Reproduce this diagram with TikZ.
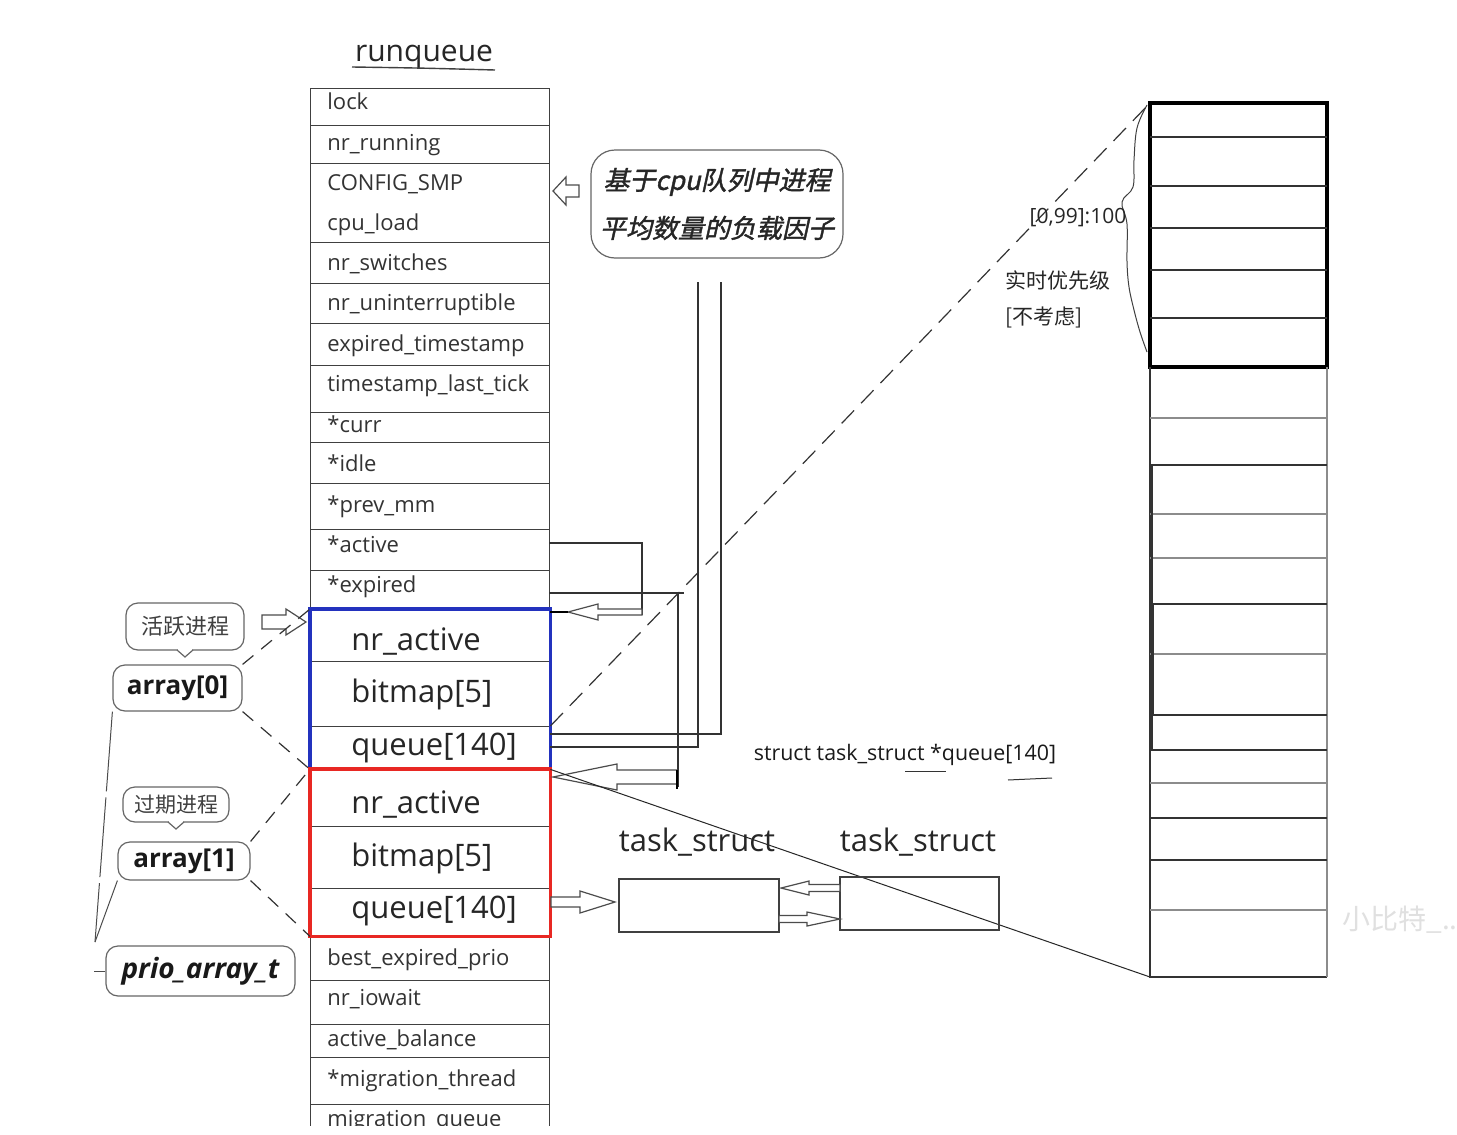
\documentclass[tikz,border=0pt]{standalone}
\usepackage{fontspec}
\setmainfont{Open Sans}
\newfontfamily\cjk{Noto Sans CJK SC}
\newfontfamily\cjkbi[FakeSlant=0.22,FakeBold=1.5]{Noto Sans CJK SC}
\definecolor{qblue}{RGB}{35,50,190}
\definecolor{qred}{RGB}{232,40,35}
\newcommand\hollowL[6]{%
 \draw[harrow] ({#1},{#3-#4}) -- ({#2+#6},{#3-#4}) -- ({#2+#6},{#3-#5}) -- ({#2},{#3}) -- ({#2+#6},{#3+#5}) -- ({#2+#6},{#3+#4}) -- ({#1},{#3+#4}) -- cycle;}
\newcommand\hollowR[6]{%
 \draw[harrow] ({#1},{#3-#4}) -- ({#2-#6},{#3-#4}) -- ({#2-#6},{#3-#5}) -- ({#2},{#3}) -- ({#2-#6},{#3+#5}) -- ({#2-#6},{#3+#4}) -- ({#1},{#3+#4}) -- cycle;}
\tikzset{
 tline/.style={draw=black!75, line width=0.7pt},
 rowbox/.style={tline, minimum width=119.5pt, inner sep=0pt, anchor=north west},
 rowtext/.style={anchor=west, inner sep=0pt, yshift=-1.5pt, font=\fontsize{11}{13}\selectfont, text=black!80, text height=0.72em, text depth=0.22em},
 bigtext/.style={anchor=west, inner sep=0pt, yshift=-2.8pt, font=\fontsize{15.5}{18}\selectfont, text=black!85, text height=0.72em, text depth=0.22em},
 harrow/.style={draw=black!70, fill=white, line width=0.6pt},
 bubble/.style={draw=black!60, line width=0.6pt, rounded corners=6pt, inner sep=0pt, fill=white},
 dashone/.style={draw=black!80, line width=0.6pt, dash pattern=on 9pt off 5pt},
 conn/.style={draw=black!80, line width=0.7pt},
 colline/.style={draw=black!80, line width=0.6pt},
 colgray/.style={draw=black!45, line width=0.6pt},
}
\begin{document}
\begin{tikzpicture}[x=0.5pt,y=-0.5pt]
\fill[white] (0,0) rectangle (1457,1135);
\useasboundingbox (0,0) rectangle (1457,1135);

% title
\node[font=\fontsize{15}{18}\selectfont, text=black!85] (title) at (424,57) {runqueue};
\draw[black!75, line width=0.7pt] (352,67) .. controls (420,68) .. (495,70);

% runqueue rows
\node[rowbox, minimum height=18.5pt] (lock) at (310,88) {};
\node[rowbox, minimum height=19pt] (nrrun) at (310,125) {};
\node[rowbox, minimum height=39.5pt] (cfg) at (310,163) {};
\node[rowbox, minimum height=20.5pt] (nrsw) at (310,242) {};
\node[rowbox, minimum height=20pt] (nrun) at (310,283) {};
\node[rowbox, minimum height=21pt] (expts) at (310,323) {};
\node[rowbox, minimum height=23.5pt] (tslt) at (310,365) {};
\node[rowbox, minimum height=15pt] (curr) at (310,412) {};
\node[rowbox, minimum height=20.5pt] (idle) at (310,442) {};
\node[rowbox, minimum height=23pt] (prevmm) at (310,483) {};
\node[rowbox, minimum height=20.5pt] (active) at (310,529) {};
\node[rowbox, minimum height=19.5pt] (expired) at (310,570) {};
\node[rowbox, minimum height=26pt] (banr) at (310,609) {};
\node[rowbox, minimum height=32.5pt] (babm) at (310,661) {};
\node[rowbox, minimum height=21pt] (baq) at (310,726) {};
\node[rowbox, minimum height=28.5pt] (ranr) at (310,769) {};
\node[rowbox, minimum height=31pt] (rabm) at (310,826) {};
\node[rowbox, minimum height=23.5pt] (raq) at (310,888) {};
\node[rowbox, minimum height=22.5pt] (bep) at (310,935) {};
\node[rowbox, minimum height=22pt] (iow) at (310,980) {};
\node[rowbox, minimum height=16.5pt] (bal) at (310,1024) {};
\node[rowbox, minimum height=23.5pt] (mth) at (310,1057) {};
\begin{scope}
\clip (0,0) rectangle (1457,1125);
\node[rowbox, minimum height=23pt] (mq) at (310,1104) {};
\node[rowtext] (mqT) at (327,1118) {migration\_queue};
\end{scope}

\node[rowtext] (lockT) at (327,101) {lock};
\node[rowtext] (nrrunT) at (327,142) {nr\_running};
\node[rowtext] (cfgT) at (327,182) {CONFIG\_SMP};
\node[rowtext] (cpuT) at (327,222) {cpu\_load};
\node[rowtext] (nrswT) at (327,262) {nr\_switches};
\node[rowtext] (nrunT) at (327,302) {nr\_uninterruptible};
\node[rowtext] (exptsT) at (327,343) {expired\_timestamp};
\node[rowtext] (tsltT) at (327,383) {timestamp\_last\_tick};
\node[rowtext] (currT) at (327,424) {*curr};
\node[rowtext] (idleT) at (327,463) {*idle};
\node[rowtext] (prevmmT) at (327,504) {*prev\_mm};
\node[rowtext] (activeT) at (327,544) {*active};
\node[rowtext] (expiredT) at (327,584) {*expired};
\node[bigtext] (banrT) at (351,640) {nr\_active};
\node[bigtext] (babmT) at (351,692) {bitmap[5]};
\node[bigtext] (baqT) at (351,745) {queue[140]};
\node[bigtext] (ranrT) at (351,803) {nr\_active};
\node[bigtext] (rabmT) at (351,856) {bitmap[5]};
\node[bigtext] (raqT) at (351,908) {queue[140]};
\node[rowtext] (bepT) at (327,957) {best\_expired\_prio};
\node[rowtext] (iowT) at (327,997) {nr\_iowait};
\node[rowtext] (balT) at (327,1038) {active\_balance};
\node[rowtext] (mthT) at (327,1078) {*migration\_thread};

\draw[qblue, line width=1.6pt] (banr.north west) rectangle (baq.south east);
\draw[qred, line width=1.6pt] (ranr.north west) rectangle (raq.south east);

% callout on cpu_load
\node[bubble, rounded corners=12pt, minimum width=126pt, minimum height=54pt, align=center,
      font=\cjkbi\fontsize{13}{24}\selectfont, text=black!85] (cb) at (717,204)
      {基于cpu队列中进程\\平均数量的负载因子};
\hollowL{579}{553}{191}{6}{14}{13}

% queue pointers going up
\coordinate (qa) at (721,282);
\coordinate (qb) at (698,282);
\draw[conn] (baq.east |- 0,734) -| (qa);
\draw[conn] (baq.east |- 0,747) -| (qb);

% *active -> array[0]
\coordinate (actR) at (549,543);
\draw[conn] (actR) -| (642,615);
\hollowL{642}{568}{612}{3}{8}{30}
\draw[black, line width=1.4pt] (568,612) -- ([yshift=-1.5pt]banr.north east);

% *expired -> array[1]
\coordinate (expR) at (549,593);
\draw[conn] (expR) -- (684,593);
\draw[conn] (678,593) -- (678,787);
\hollowL{677}{553}{777}{7}{13}{64}
\draw[black, line width=1.3pt] (677,770) -- (677,789);

% zoom lines to the right column
\coordinate (colTL) at (1150,103);
\coordinate (colBL) at (1150,977);
\draw[dashone] (baq.north east) -- (colTL);
\draw[black!85, line width=0.5pt] (baq.south east) -- (colBL);

% right column
\draw[black, line width=2pt] (1150,103) rectangle (1327,367);
\foreach \yy in {137,186,228,270,318} \draw[colline] (1150,\yy) -- (1327,\yy);
\draw[colline] (1150,367) -- (colBL) -- (1327,977);
\draw[colgray] (1327,367) -- (1327,977);
\foreach \yy in {465,604,715,750,818,860} \draw[colline] (1150,\yy) -- (1327,\yy);
\foreach \yy in {418,514,558,654,783,910} \draw[colgray] (1150,\yy) -- (1327,\yy);
\draw[colline] (1153,604) -- (1153,715);
\draw[colline] (1152,465) -- (1152,750);

% brace
\draw[black!75, line width=0.5pt] plot[smooth, tension=0.6] coordinates
 {(1147,105) (1137,128) (1134,160) (1133,187) (1122,202) (1127,224) (1127,262) (1129,287) (1134,310) (1140,332) (1147,352)};
\node[font=\fontsize{10.5}{12}\selectfont, text=black!85, inner sep=0pt] (rng) at (1078,218) {[0,99]:100};
\node[font=\cjk\fontsize{10.5}{12}\selectfont, text=black!85, anchor=west, inner sep=0pt] (rt) at (1005,280) {实时优先级};
\node[font=\cjk\fontsize{10.5}{12}\selectfont, text=black!85, anchor=west, inner sep=0pt] (nc) at (1005,317) {[不考虑]};

% task_struct area
\node[font=\fontsize{10.7}{12}\selectfont, text=black!90, inner sep=0pt] (tsq) at (905,755) {struct task\_struct *queue[140]};
\draw[black!80, line width=0.5pt] (905,771) -- (946,771);
\draw[black!80, line width=0.5pt] (1008,780) -- (1052,778);
\node[font=\fontsize{15.5}{18}\selectfont, text=black!85, inner sep=0pt] (ts1L) at (697,842) {task\_struct};
\node[font=\fontsize{15.5}{18}\selectfont, text=black!85, inner sep=0pt] (ts2L) at (918,842) {task\_struct};
\node[tline, minimum width=80pt, minimum height=26.5pt, inner sep=0pt] (t1) at (699,905.5) {};
\node[tline, minimum width=79.5pt, minimum height=26.5pt, inner sep=0pt] (t2) at (919.5,903.5) {};
\hollowR{551}{615}{902}{5}{11}{35}
\hollowL{840}{781}{888}{3.5}{7}{28}
\hollowR{779}{840}{919}{3.5}{7}{33}

% left labels
\node[bubble, minimum width=59pt, minimum height=23.5pt, font=\cjk\fontsize{11}{13}\selectfont, text=black!75] (actb) at (185,626.5) {活跃进程};
\fill[white] (178,648) rectangle (192,652);
\draw[black!60, line width=0.6pt] (177,650) -- (185,657) -- (193,650);
\hollowR{262}{306}{622}{7}{13}{20}

\node[bubble, minimum width=64.5pt, minimum height=23pt, font=\bfseries\fontsize{13}{15}\selectfont, text=black!90] (a0) at (177.5,688) {array[0]};

\node[bubble, minimum width=53pt, minimum height=17.5pt, font=\cjk\fontsize{10.5}{12}\selectfont, text=black!75] (expb) at (176,804.5) {过期进程};
\fill[white] (169,820) rectangle (183,824);
\draw[black!60, line width=0.6pt] (168,822) -- (176,829) -- (184,822);

\node[bubble, minimum width=66pt, minimum height=19pt, font=\bfseries\fontsize{13}{15}\selectfont, text=black!90] (a1) at (184,861) {array[1]};
\node[bubble, minimum width=94.5pt, minimum height=25pt, font=\bfseries\itshape\fontsize{14}{16}\selectfont, text=black!90] (pa) at (200.5,971) {prio\_array\_t};

\draw[dashone, dash pattern=on 7pt off 5pt] (a0.north east) -- (banr.north west);
\draw[dashone, dash pattern=on 7pt off 5pt] (a0.south east) -- (baq.south west);
\draw[dashone, dash pattern=on 7pt off 5pt] (a1.north east) -- (ranr.north west);
\draw[dashone, dash pattern=on 7pt off 5pt] (a1.south east) -- (raq.south west);

\coordinate (pj) at (95,942);
\draw[black!70, line width=0.5pt, dash pattern=on 40pt off 3pt] (a0.south west) -- (pj);
\draw[black!70, line width=0.5pt] (a1.south west) -- (pj);
\draw[black!70, line width=0.5pt] (pa.west) -- ++(-11,0);

% watermark
\node[font=\cjk\fontsize{14}{16}\selectfont, text=black!12] (wm) at (1400,920) {小比特\_..};
\end{tikzpicture}
\end{document}
